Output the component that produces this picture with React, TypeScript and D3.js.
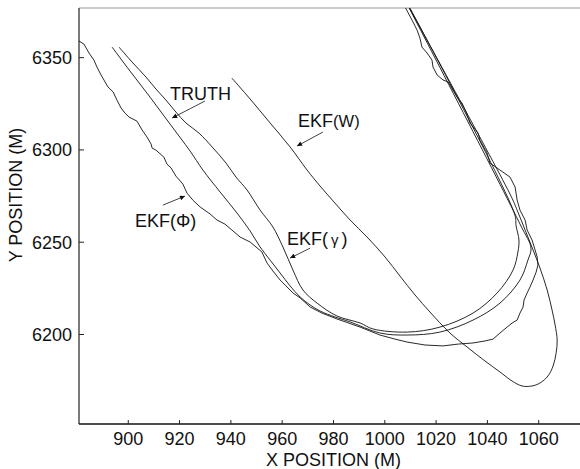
import React from "react";
import * as d3 from "d3";

// ---- data (X POSITION (M), Y POSITION (M)) ----
const xTicks = [900, 920, 940, 960, 980, 1000, 1020, 1040, 1060];
const yTicks = [6200, 6250, 6300, 6350];

const truth: [number, number][] = [
  [893.7, 6355.7], [900.7, 6342.7], [908.5, 6328.6], [916.3, 6314.0], [924.1, 6299.4], [929.1, 6289.1],
  [935.8, 6277.2], [942.4, 6265.8], [947.5, 6256.1], [951.4, 6247.4], [955.3, 6240.3], [959.2, 6233.3],
  [963.1, 6226.3], [967.0, 6220.3], [970.9, 6216.0], [974.8, 6212.7], [980.6, 6209.5], [986.5, 6206.8],
  [998.1, 6200.8], [1008.7, 6199.7], [1021.5, 6201.3], [1034.4, 6207.8], [1044.9, 6217.0], [1052.7, 6229.5],
  [1055.8, 6240.3], [1057.0, 6246.8], [1052.9, 6259.3], [1009.5, 6376.9],
];

const ekfGamma: [number, number][] = [
  [896.4, 6355.7], [901.5, 6347.6], [906.9, 6339.5], [910.8, 6333.0], [914.7, 6327.0], [918.6, 6320.5],
  [922.5, 6314.6], [927.6, 6309.1], [932.7, 6301.6], [938.1, 6292.9], [942.0, 6285.3], [946.3, 6278.3],
  [951.4, 6267.4], [956.4, 6258.2], [960.3, 6247.4], [964.2, 6234.9], [968.1, 6224.1], [973.6, 6217.0],
  [981.4, 6210.0], [990.4, 6206.2], [995.4, 6203.0], [1008.7, 6201.3], [1021.5, 6204.0], [1034.4, 6211.6],
  [1043.8, 6222.5], [1050.0, 6234.9], [1051.9, 6244.7], [1052.3, 6251.2], [1051.2, 6258.8], [1050.6, 6265.3],
  [1009.8, 6376.9],
];

const ekfPhi: [number, number][] = [
  [880.8, 6359.0], [882.7, 6357.4], [884.7, 6352.5], [886.6, 6348.7], [887.8, 6344.9], [889.4, 6340.6],
  [892.1, 6334.1], [894.1, 6331.4], [895.6, 6327.0], [897.2, 6322.7], [898.7, 6320.0], [900.3, 6317.8],
  [903.4, 6315.6], [905.4, 6310.8], [907.3, 6307.0], [908.9, 6303.2], [909.3, 6301.0], [910.8, 6299.9],
  [913.9, 6296.1], [915.1, 6292.3], [916.7, 6290.2], [918.6, 6285.8], [921.3, 6281.5], [922.9, 6276.6],
  [925.2, 6272.8], [928.0, 6269.1], [931.9, 6265.3], [934.6, 6262.0], [937.7, 6259.8], [940.4, 6256.6],
  [943.6, 6252.8], [947.5, 6250.1], [949.8, 6247.4], [952.1, 6244.7], [954.1, 6238.7], [956.4, 6234.4],
  [959.2, 6229.5], [961.5, 6226.3], [964.2, 6222.5], [967.0, 6219.8], [970.9, 6214.9], [975.5, 6211.6],
  [981.4, 6208.4], [990.4, 6204.0], [998.1, 6199.7], [1004.0, 6197.5], [1008.7, 6195.9], [1015.7, 6194.3],
  [1022.7, 6193.8], [1028.6, 6194.8], [1034.4, 6195.4], [1039.1, 6196.5], [1042.2, 6197.5], [1044.9, 6200.8],
  [1047.7, 6204.0], [1049.6, 6206.2], [1051.6, 6207.8], [1052.7, 6211.6], [1053.9, 6214.9], [1054.3, 6218.7],
  [1055.5, 6222.5], [1056.6, 6225.7], [1057.8, 6229.5], [1059.0, 6233.8], [1059.7, 6237.6], [1059.4, 6242.0],
  [1058.6, 6245.8], [1057.4, 6251.2], [1055.5, 6256.6], [1054.7, 6262.0], [1052.7, 6267.4], [1051.6, 6272.8],
  [1050.8, 6279.9], [1048.8, 6285.3], [1044.9, 6289.1], [1041.0, 6292.9], [1039.9, 6298.3], [1037.1, 6305.3],
  [1036.4, 6309.1], [1033.2, 6314.6], [1031.7, 6320.5], [1030.1, 6325.4], [1028.2, 6328.6], [1024.7, 6336.8],
  [1022.7, 6337.9], [1020.4, 6340.6], [1018.8, 6344.9], [1018.4, 6348.7], [1016.5, 6352.5], [1014.5, 6355.7],
  [1013.7, 6360.6], [1012.6, 6364.9], [1010.6, 6370.4], [1007.9, 6377.4],
];

const ekfW: [number, number][] = [
  [940.4, 6338.9], [947.5, 6327.6], [955.3, 6314.6], [963.1, 6301.6], [969.7, 6289.1], [974.8, 6280.4],
  [980.2, 6271.8], [986.5, 6262.0], [993.1, 6252.8], [1000.1, 6242.0], [1005.9, 6231.7], [1011.8, 6221.4],
  [1017.6, 6212.2], [1025.4, 6200.8], [1032.1, 6193.2], [1039.1, 6185.6], [1044.9, 6179.7], [1049.6, 6174.8],
  [1053.5, 6172.1], [1057.4, 6172.1], [1060.5, 6173.7], [1063.6, 6177.5], [1065.6, 6182.9], [1066.8, 6190.0],
  [1067.2, 6197.0], [1066.4, 6205.1], [1065.2, 6213.3], [1063.3, 6224.1], [1060.5, 6236.0], [1057.8, 6245.8],
  [1054.7, 6256.6], [1051.9, 6266.3], [1049.2, 6275.0], [1009.6, 6376.9],
];

// annotation anchors (data units): label position, arrow start, arrow tip
const labelNames = ["TRUTH", "EKF(W)", "EKF(Φ)", "EKF(γ)"];
const labelPos: [number, number][] = [[916.3, 6327.0], [966.2, 6312.4], [902.6, 6258.2], [961.9, 6248.5]];
const arrowFrom: [number, number][] = [[929.9, 6326.5], [975.9, 6309.7], [913.5, 6270.1], [970.9, 6246.8]];
const arrowTo: [number, number][] = [[917.1, 6317.3], [965.8, 6302.1], [922.1, 6275.0], [963.1, 6241.4]];

const W = 580;
const H = 469;
const left = 79;
const right = 580;
const top = 8;
const bottom = 424;
const FONT = "'Liberation Sans', Arial, Helvetica, sans-serif";

export default function App() {
  const x = d3.scaleLinear().domain([880.8, 1076.1]).range([left, right]);
  const y = d3.scaleLinear().domain([6151.5, 6376.9]).range([bottom, top]);

  const smooth = d3
    .line<[number, number]>()
    .x((d) => x(d[0]))
    .y((d) => y(d[1]))
    .curve(d3.curveCatmullRom.alpha(0.5));
  const rough = d3
    .line<[number, number]>()
    .x((d) => x(d[0]))
    .y((d) => y(d[1]));

  const lineStyle = { fill: "none", stroke: "#111", strokeWidth: 0.9, strokeLinejoin: "round" as const };

  const renderLabel = (name: string, i: number) => {
    const [lx, ly] = labelPos[i];
    const px = x(lx);
    const py = y(ly);
    if (name === "EKF(W)") {
      return (
        <text key={i} x={px} y={py} fontSize={18}>
          EKF<tspan fontSize={16.5}>(W)</tspan>
        </text>
      );
    }
    if (name === "EKF(γ)") {
      return (
        <text key={i} x={px} y={py} fontSize={18}>
          EKF(<tspan fontSize={15} dx={3}>γ</tspan>
          <tspan dx={3}>)</tspan>
        </text>
      );
    }
    return (
      <text key={i} x={px} y={py} fontSize={18}>
        {name}
      </text>
    );
  };

  return (
    <svg
      width={W}
      height={H}
      style={{ position: "absolute", left: 0, top: 0, background: "#fff" }}
      fontFamily={FONT}
    >
      <defs>
        <clipPath id="plot">
          <rect x={left} y={top} width={right - left} height={bottom - top} />
        </clipPath>
        <marker
          id="ah"
          viewBox="0 0 10 10"
          refX="10"
          refY="5"
          markerWidth="7"
          markerHeight="5"
          markerUnits="userSpaceOnUse"
          orient="auto"
        >
          <path d="M0,0 L10,5 L0,10 z" fill="#111" />
        </marker>
      </defs>
      <rect x={0} y={0} width={W} height={H} fill="#fff" />

      {/* frame */}
      <line x1={left} x2={right} y1={top} y2={top} stroke="#999" strokeWidth={1} />
      <line x1={left} x2={left} y1={top} y2={bottom} stroke="#222" strokeWidth={1.2} />
      <line x1={left} x2={right} y1={bottom} y2={bottom} stroke="#111" strokeWidth={1.6} />

      {/* y ticks */}
      {yTicks.map((t) => (
        <g key={"y" + t}>
          <line x1={left} x2={left + 5} y1={y(t)} y2={y(t)} stroke="#222" strokeWidth={1} />
          <text x={72} y={y(t)} dy="0.36em" textAnchor="end" fontSize={18} fill="#111">
            {t}
          </text>
        </g>
      ))}
      {/* x ticks */}
      {xTicks.map((t) => (
        <g key={"x" + t}>
          <line x1={x(t)} x2={x(t)} y1={bottom} y2={bottom - 4} stroke="#222" strokeWidth={1} />
          <text x={x(t)} y={445} textAnchor="middle" fontSize={18} fill="#111">
            {t}
          </text>
        </g>
      ))}

      <text x={(left + right) / 2 + 4} y={466} textAnchor="middle" fontSize={18} fill="#111">
        X POSITION (M)
      </text>
      <text transform="translate(22,195) rotate(-90)" textAnchor="middle" fontSize={18} fill="#111">
        Y POSITION (M)
      </text>

      {/* trajectories */}
      <g clipPath="url(#plot)">
        <path d={smooth(truth) || ""} style={lineStyle} />
        <path d={smooth(ekfGamma) || ""} style={lineStyle} />
        <path d={smooth(ekfW) || ""} style={lineStyle} />
        <path d={rough(ekfPhi) || ""} style={lineStyle} />
      </g>

      {/* annotations */}
      <g fill="#111">
        {labelNames.map((n, i) => renderLabel(n, i))}
      </g>
      {arrowFrom.map((a, i) => (
        <line
          key={"a" + i}
          x1={x(a[0])}
          y1={y(a[1])}
          x2={x(arrowTo[i][0])}
          y2={y(arrowTo[i][1])}
          stroke="#111"
          strokeWidth={0.8}
          markerEnd="url(#ah)"
        />
      ))}
    </svg>
  );
}
